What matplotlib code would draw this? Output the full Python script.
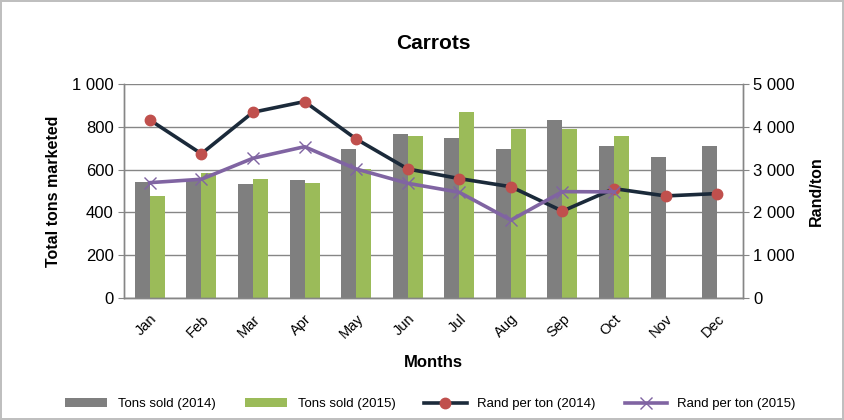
import matplotlib.pyplot as plt
import numpy as np
from matplotlib.ticker import FuncFormatter

plt.rcParams["font.family"] = ["Liberation Sans", "DejaVu Sans"]

months = ["Jan", "Feb", "Mar", "Apr", "May", "Jun", "Jul", "Aug", "Sep", "Oct", "Nov", "Dec"]
tons_2014 = [543, 553, 533, 551, 698, 765, 746, 698, 833, 709, 659, 709]
tons_2015 = [478, 584, 556, 539, 603, 757, 868, 790, 790, 757, None, None]
rand_2014 = [4160, 3370, 4340, 4590, 3715, 3015, 2790, 2600, 2030, 2555, 2385, 2440]
rand_2015 = [2695, 2775, 3265, 3535, 3015, 2680, 2470, 1820, 2485, 2480, None, None]

GRAY = "#7f7f7f"
GREEN = "#9bbb59"
NAVY = "#1b2a3a"
RED = "#c0504d"
PURPLE = "#8064a2"
LINE = "#868686"


def space_thousands(v, pos):
    return f"{int(v):,}".replace(",", " ")


fig = plt.figure(figsize=(8.44, 4.20), dpi=100)
fig.patch.set_edgecolor("#bfbfbf")
fig.patch.set_linewidth(1.5)

ax = fig.add_axes([124 / 844, 1 - 298 / 420, 619 / 844, 214 / 420])
ax2 = ax.twinx()

x = np.arange(len(months))
w = 0.29
t15 = [np.nan if v is None else v for v in tons_2015]
ax.bar(x - w / 2, tons_2014, width=w, color=GRAY, label="Tons sold (2014)", zorder=2)
ax.bar(x + w / 2, t15, width=w, color=GREEN, label="Tons sold (2015)", zorder=2)

r15 = [np.nan if v is None else v for v in rand_2015]
ax2.plot(x, rand_2014, color=NAVY, lw=2.6, marker="o", ms=7.5, mfc=RED, mec=RED,
         label="Rand per ton (2014)", zorder=3)
ax2.plot(x, r15, color=PURPLE, lw=2.6, marker="x", ms=9, mew=1.0, mec=PURPLE,
         label="Rand per ton (2015)", zorder=3)

ax.set_xlim(-0.5, 11.5)
ax.set_ylim(0, 1000)
ax.set_yticks(range(0, 1001, 200))
ax2.set_ylim(0, 5000)
ax2.set_yticks(range(0, 5001, 1000))
ax.yaxis.set_major_formatter(FuncFormatter(space_thousands))
ax2.yaxis.set_major_formatter(FuncFormatter(space_thousands))

ax.grid(axis="y", color=LINE, lw=1.0, zorder=0)
ax.set_axisbelow(True)
for a in (ax, ax2):
    a.spines["top"].set_visible(False)
    for s in ("left", "right", "bottom"):
        a.spines[s].set_color(LINE)
        a.spines[s].set_linewidth(1.0)
    a.tick_params(axis="y", colors=LINE, labelcolor="black", labelsize=12, length=4)

ax.set_xticks(x)
ax.set_xticklabels(months, rotation=45, ha="right", rotation_mode="anchor", fontsize=10.5)
ax.tick_params(axis="x", length=0, pad=10)

ax.set_title("Carrots", fontsize=15, fontweight="bold", pad=25)
ax.set_ylabel("Total tons marketed", fontsize=11.5, fontweight="bold", labelpad=8)
ax2.set_ylabel("Rand/ton", fontsize=11.5, fontweight="bold", labelpad=10)
ax.set_xlabel("Months", fontsize=12, fontweight="bold", labelpad=10)

h1, l1 = ax.get_legend_handles_labels()
h2, l2 = ax2.get_legend_handles_labels()
fig.legend(h1 + h2, l1 + l2, loc="lower center", ncol=4, frameon=False,
           bbox_to_anchor=(0.51, -0.005), fontsize=9.5, handlelength=3.2, columnspacing=2.2)

fig.savefig("out.png", dpi=100)
